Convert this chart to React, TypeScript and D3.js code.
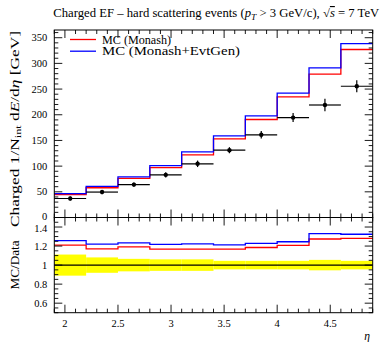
import React from "react";
import * as d3 from "d3";

const binEdges = [1.9, 2.2, 2.5, 2.8, 3.1, 3.4, 3.7, 4.0, 4.3, 4.6, 4.9];
const dataValues = [37, 49.5, 64, 83, 104.5, 131, 161, 194.5, 219, 255.5];
const dataErrors = [4.1, 4.0, 4.2, 5.0, 6.3, 5.9, 7.2, 8.8, 12.0, 11.5];
const monash = [44.8, 57.9, 76.2, 96.9, 122, 152.9, 190.8, 234.8, 279, 327];
const monashEvtGen = [46.5, 60.4, 79, 101, 127.9, 158.9, 197.7, 242.2, 291.3, 338.3];
const mainYTicks = [0, 50, 100, 150, 200, 250, 300, 350];
const ratioYTicks = [0.6, 0.8, 1, 1.2, 1.4];
const ratioYTickLabels = ["0.6", "0.8", "1", "1.2", "1.4"];
const xTicks = [2, 2.5, 3, 3.5, 4, 4.5];
const xTickLabels = ["2", "2.5", "3", "3.5", "4", "4.5"];
const seriesNames = ["MC (Monash)", "MC (Monash+EvtGen)"];
const seriesColors = ["#ff0000", "#0000ff"];

const L = 54.3, R = 372.7, MT = 30, MB = 217.5, RT = 217.5, RB = 312.7;
const FONT = "'Liberation Serif', 'DejaVu Serif', serif";

export default function App() {
  const x = d3.scaleLinear().domain([1.9, 4.9]).range([L, R]);
  const y = d3.scaleLinear().domain([0, 365]).range([MB, MT]);
  const yr = d3.scaleLinear().domain([0.5, 1.5]).range([RB, RT]);

  const stepPts = (vals: number[]) => {
    const pts: [number, number][] = vals.map((v, i) => [binEdges[i], v]);
    pts.push([binEdges[binEdges.length - 1], vals[vals.length - 1]]);
    return pts;
  };
  const mainLine = d3.line<[number, number]>().x(d => x(d[0])).y(d => y(d[1])).curve(d3.curveStepAfter);
  const ratioLine = d3.line<[number, number]>().x(d => x(d[0])).y(d => yr(d[1])).curve(d3.curveStepAfter);

  const series = [monash, monashEvtGen];
  const ratios = series.map(s => s.map((v, i) => v / dataValues[i]));

  const xMinor = d3.range(19, 50).map(v => v / 10).filter(v => !xTicks.some(t => Math.abs(t - v) < 1e-6));
  const yMinor = d3.range(0, 370, 10).filter(v => v % 50 !== 0 && v <= 365);
  const rMinor = d3.range(10, 31).map(v => v / 20).filter(v => !ratioYTicks.some(t => Math.abs(t - v) < 1e-6));

  const MAJ = 8, MIN = 4;
  const tickStroke = { stroke: "#000", strokeWidth: 0.9 };

  const xTickMarks = (top: number, bottom: number, key: string) => (
    <g key={key}>
      {xTicks.map(t => (
        <g key={t}>
          <line x1={x(t)} x2={x(t)} y1={top} y2={top + MAJ} {...tickStroke} />
          <line x1={x(t)} x2={x(t)} y1={bottom} y2={bottom - MAJ} {...tickStroke} />
        </g>
      ))}
      {xMinor.map(t => (
        <g key={t}>
          <line x1={x(t)} x2={x(t)} y1={top} y2={top + MIN} {...tickStroke} />
          <line x1={x(t)} x2={x(t)} y1={bottom} y2={bottom - MIN} {...tickStroke} />
        </g>
      ))}
    </g>
  );

  const yTickMarks = (scale: d3.ScaleLinear<number, number>, major: number[], minor: number[], key: string) => (
    <g key={key}>
      {major.map(t => (
        <g key={t}>
          <line x1={L} x2={L + MAJ} y1={scale(t)} y2={scale(t)} {...tickStroke} />
          <line x1={R} x2={R - MAJ} y1={scale(t)} y2={scale(t)} {...tickStroke} />
        </g>
      ))}
      {minor.map(t => (
        <g key={t}>
          <line x1={L} x2={L + MIN} y1={scale(t)} y2={scale(t)} {...tickStroke} />
          <line x1={R} x2={R - MIN} y1={scale(t)} y2={scale(t)} {...tickStroke} />
        </g>
      ))}
    </g>
  );

  const legendLengths = [69, 138];

  return (
    <svg width={381} height={342} style={{ position: "absolute", left: 0, top: 0, background: "#fff" }} fontFamily={FONT}>
      <rect x={0} y={0} width={381} height={342} fill="#fff" />
      {/* Title */}
      <text x={L - 1} y={17} fontSize={11.5} fill="#000" textLength={326} lengthAdjust="spacingAndGlyphs">
        Charged EF – hard scattering events (<tspan fontStyle="italic">p</tspan>
        <tspan fontSize={8.5} dy={2.5} fontStyle="italic">T</tspan>
        <tspan dy={-2.5}> &gt; 3 GeV/c), √</tspan>
        <tspan textDecoration="overline" fontStyle="italic">s</tspan>
        <tspan> = 7 TeV</tspan>
      </text>

      {/* Ratio band */}
      {dataValues.map((d, i) => (
        <rect key={i} x={x(binEdges[i])} width={x(binEdges[i + 1]) - x(binEdges[i])}
          y={yr(1 + dataErrors[i] / d)} height={yr(1 - dataErrors[i] / d) - yr(1 + dataErrors[i] / d)}
          fill="#ffff00" />
      ))}
      <line x1={L} x2={R} y1={yr(1)} y2={yr(1)} stroke="#000" strokeWidth={1.1} />
      {ratios.map((r, k) => (
        <path key={k} d={ratioLine(stepPts(r)) || ""} fill="none" stroke={seriesColors[k]} strokeWidth={1.3} />
      ))}

      {/* Main MC */}
      {series.map((s, k) => (
        <path key={k} d={mainLine(stepPts(s)) || ""} fill="none" stroke={seriesColors[k]} strokeWidth={1.3} />
      ))}

      {/* Data */}
      {dataValues.map((d, i) => {
        const cx = x((binEdges[i] + binEdges[i + 1]) / 2);
        return (
          <g key={i}>
            <line x1={x(binEdges[i])} x2={x(binEdges[i + 1])} y1={y(d)} y2={y(d)} stroke="#000" strokeWidth={1.2} />
            <line x1={cx} x2={cx} y1={y(d - dataErrors[i])} y2={y(d + dataErrors[i])} stroke="#000" strokeWidth={1.2} />
            <circle cx={cx} cy={y(d)} r={2.2} fill="#000" />
          </g>
        );
      })}

      {/* Frames */}
      <rect x={L} y={MT} width={R - L} height={MB - MT} fill="none" stroke="#000" strokeWidth={1} />
      <rect x={L} y={RT} width={R - L} height={RB - RT} fill="none" stroke="#000" strokeWidth={1} />
      {xTickMarks(MT, MB, "mx")}
      {xTickMarks(RT, RB, "rx")}
      {yTickMarks(y, mainYTicks, yMinor, "my")}
      {yTickMarks(yr, ratioYTicks, rMinor, "ry")}

      {/* Tick labels */}
      {mainYTicks.map(t => (
        <text key={t} x={L - 7} y={y(t) - (t === 0 ? 1 : 0)} dy="0.35em" textAnchor="end" fontSize={10.5}>{t}</text>
      ))}
      {ratioYTicks.map((t, i) => (
        <text key={t} x={L - 7} y={yr(t) + (i === ratioYTicks.length - 1 ? 1 : 0)} dy="0.35em" textAnchor="end" fontSize={10.5}>{ratioYTickLabels[i]}</text>
      ))}
      {xTicks.map((t, i) => (
        <text key={t} x={x(t)} y={RB + 11} dy="0.35em" textAnchor="middle" fontSize={10.5}>{xTickLabels[i]}</text>
      ))}
      <text x={370} y={336} dy="0.35em" textAnchor="end" fontSize={11.5} fontStyle="italic">η</text>

      {/* Axis titles */}
      <text transform={`translate(18.5,129) rotate(-90)`} textAnchor="middle" fontSize={12} textLength={196} lengthAdjust="spacingAndGlyphs">
        Charged 1/N<tspan fontSize={8.5} dy={2.5}>int</tspan>
        <tspan dy={-2.5}>{"  d"}</tspan><tspan fontStyle="italic">E</tspan>/d<tspan fontStyle="italic">η</tspan> [GeV]
      </text>
      <text transform={`translate(18.5,265) rotate(-90)`} textAnchor="middle" fontSize={12} textLength={49} lengthAdjust="spacingAndGlyphs">MC/Data</text>

      {/* Legend */}
      {seriesNames.map((n, k) => (
        <g key={n}>
          <line x1={70} x2={96} y1={39.5 + k * 11.7} y2={39.5 + k * 11.7} stroke={seriesColors[k]} strokeWidth={1.3} />
          <text x={102} y={40 + k * 11.7} dy="0.33em" fontSize={11.5} textLength={legendLengths[k]} lengthAdjust="spacingAndGlyphs">{n}</text>
        </g>
      ))}
    </svg>
  );
}
